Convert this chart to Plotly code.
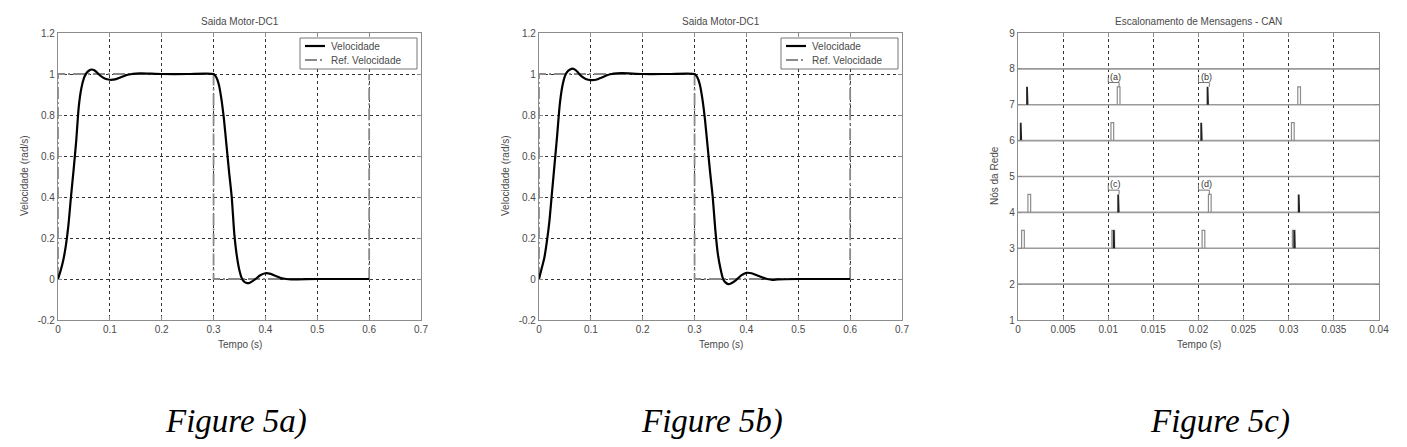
import plotly.graph_objects as go

W, H = 1407, 447

# ---------------- Figure 5a data ----------------
t_a = [0, 0.005, 0.01, 0.015, 0.02, 0.025, 0.03, 0.035, 0.04, 0.045, 0.05, 0.055, 0.06, 0.065,
       0.07, 0.075, 0.08, 0.09, 0.1, 0.11, 0.12, 0.13, 0.14, 0.15, 0.16, 0.2, 0.25, 0.3,
       0.305, 0.31, 0.315, 0.32, 0.325, 0.33, 0.335, 0.34, 0.345, 0.35, 0.355, 0.36, 0.365,
       0.37, 0.38, 0.39, 0.4, 0.41, 0.42, 0.43, 0.44, 0.45, 0.5, 0.6]
v_a = [0, 0.04, 0.09, 0.16, 0.26, 0.40, 0.53, 0.67, 0.84, 0.93, 0.98, 1.005, 1.017, 1.022,
       1.018, 1.008, 0.995, 0.978, 0.972, 0.974, 0.983, 0.993, 0.999, 1.002, 1.003, 1.0, 1.0, 1.0,
       0.985, 0.95, 0.88, 0.78, 0.65, 0.52, 0.40, 0.22, 0.11, 0.04, 0.0, -0.015, -0.02,
       -0.018, -0.002, 0.018, 0.028, 0.025, 0.015, 0.005, 0.0, -0.002, 0.0, 0.0]

# ---------------- Figure 5b data ----------------
t_b = [0, 0.005, 0.01, 0.015, 0.02, 0.025, 0.03, 0.035, 0.04, 0.045, 0.05, 0.055, 0.06, 0.065,
       0.07, 0.075, 0.08, 0.09, 0.1, 0.11, 0.12, 0.13, 0.14, 0.15, 0.16, 0.2, 0.25, 0.3,
       0.305, 0.31, 0.315, 0.32, 0.325, 0.33, 0.335, 0.34, 0.345, 0.35, 0.355, 0.36, 0.365,
       0.37, 0.38, 0.39, 0.4, 0.41, 0.42, 0.43, 0.44, 0.45, 0.46, 0.5, 0.6]
v_b = [0, 0.05, 0.10, 0.18, 0.28, 0.42, 0.56, 0.70, 0.85, 0.94, 0.99, 1.012, 1.022, 1.026,
       1.02, 1.008, 0.993, 0.976, 0.970, 0.972, 0.982, 0.993, 1.0, 1.003, 1.004, 1.0, 1.0, 1.0,
       0.985, 0.95, 0.88, 0.78, 0.65, 0.52, 0.40, 0.24, 0.12, 0.05, 0.0, -0.018, -0.025,
       -0.022, -0.005, 0.018, 0.03, 0.028, 0.018, 0.008, 0.0, -0.004, -0.002, 0.0, 0.0]

# reference speed (same for 5a and 5b)
ref_t = [0, 0, 0.3, 0.3, 0.6, 0.6]
ref_v = [0, 1, 1, 0, 0, 1]

# ---------------- Figure 5c data ----------------
node_levels = [2, 3, 4, 5, 6, 7, 8]
n7_gray_t = [0.0110, 0.0310]
n7_black_t = [0.0010, 0.0210]
n6_gray_t = [0.0103, 0.0303]
n6_black_t = [0.0003, 0.0203]
n4_gray_t = [0.0011, 0.0211]
n4_black_t = [0.0111, 0.0311]
n3_gray_t = [0.0004, 0.0104, 0.0204, 0.0304]
n3_black_t = [0.0106, 0.0306]
pulse_height = 0.5
gray_pulse_w = 0.0003
black_pulse_w = 0.00006
lab_text = ["(a)", "(b)", "(c)", "(d)"]
lab_t = [0.0100, 0.0200, 0.0100, 0.0200]
lab_target_t = [0.0112, 0.0212, 0.0112, 0.0212]
lab_node = [7, 7, 4, 4]

# tick labels
ticks_ab_x = [0, 0.1, 0.2, 0.3, 0.4, 0.5, 0.6, 0.7]
ticks_ab_x_txt = ["0", "0.1", "0.2", "0.3", "0.4", "0.5", "0.6", "0.7"]
ticks_ab_y = [-0.2, 0, 0.2, 0.4, 0.6, 0.8, 1, 1.2]
ticks_ab_y_txt = ["-0.2", "0", "0.2", "0.4", "0.6", "0.8", "1", "1.2"]
ticks_c_x = [0, 0.005, 0.01, 0.015, 0.02, 0.025, 0.03, 0.035, 0.04]
ticks_c_x_txt = ["0", "0.005", "0.01", "0.015", "0.02", "0.025", "0.03", "0.035", "0.04"]
ticks_c_y = [1, 2, 3, 4, 5, 6, 7, 8, 9]
ticks_c_y_txt = ["1", "2", "3", "4", "5", "6", "7", "8", "9"]

titles = ["Saida Motor-DC1", "Saida Motor-DC1", "Escalonamento de Mensagens - CAN"]
captions = ["Figure 5a)", "Figure 5b)", "Figure 5c)"]
legend_names = ["Velocidade", "Ref. Velocidade"]

# ---------------- layout geometry (pixels) ----------------
def px_x(p):
    return p / W

def px_y(p):
    return 1 - p / H

dom_a = [px_x(58), px_x(421)]
dom_b = [px_x(539), px_x(902)]
dom_c = [px_x(1018), px_x(1379)]
dom_y = [px_y(320), px_y(33)]

TXT = "#4a4a4a"
FONT = "Liberation Sans, Arial, sans-serif"
AX = "#8c8c8c"
VEL_LINE = dict(color="black", width=2.2)
REF_LINE = dict(color="#8a8a8a", width=1.8, dash="12px,3px,2px,3px")

fig = go.Figure()

for i, (tt, vv) in enumerate([(t_a, v_a), (t_b, v_b)]):
    xa = "x" if i == 0 else "x2"
    ya = "y" if i == 0 else "y2"
    fig.add_trace(go.Scatter(x=ref_t, y=ref_v, mode="lines", name=legend_names[1],
                             line=REF_LINE, xaxis=xa, yaxis=ya, showlegend=False))
    fig.add_trace(go.Scatter(x=tt, y=vv, mode="lines", name=legend_names[0],
                             line=dict(**VEL_LINE, shape="spline", smoothing=0.6),
                             xaxis=xa, yaxis=ya, showlegend=False))


def pulses(starts, base, w):
    xs, ys = [], []
    for s in starts:
        xs += [s, s, s + w, s + w, None]
        ys += [base, base + pulse_height, base + pulse_height, base, None]
    return xs, ys

for lvl in node_levels:
    fig.add_trace(go.Scatter(x=[0, 0.04], y=[lvl, lvl], mode="lines",
                             line=dict(color="#9a9a9a", width=1.6),
                             xaxis="x3", yaxis="y3", showlegend=False, hoverinfo="skip"))

for base, gt, bt in [(7, n7_gray_t, n7_black_t), (6, n6_gray_t, n6_black_t),
                     (4, n4_gray_t, n4_black_t), (3, n3_gray_t, n3_black_t)]:
    gx, gy = pulses(gt, base, gray_pulse_w)
    fig.add_trace(go.Scatter(x=gx, y=gy, mode="lines", line=dict(color="#8c8c8c", width=1.2),
                             xaxis="x3", yaxis="y3", showlegend=False))
    bx, by = pulses(bt, base, black_pulse_w)
    fig.add_trace(go.Scatter(x=bx, y=by, mode="lines", line=dict(color="#222222", width=1.8),
                             xaxis="x3", yaxis="y3", showlegend=False))

# bracket labels
for txt, lt, tt, nd in zip(lab_text, lab_t, lab_target_t, lab_node):
    top = nd + pulse_height
    fig.add_trace(go.Scatter(x=[lt, lt, tt, tt], y=[top + 0.27, top + 0.12, top + 0.12, top],
                             mode="lines", line=dict(color="#777777", width=1),
                             xaxis="x3", yaxis="y3", showlegend=False))
    fig.add_annotation(x=lt, y=top + 0.12, xref="x3", yref="y3", text=txt, showarrow=False,
                       xanchor="left", yanchor="bottom", yshift=-1,
                       font=dict(family=FONT, size=9, color="#333"))

common_axis = dict(showline=True, linecolor=AX, linewidth=1.2, mirror="ticks",
                   ticks="inside", ticklen=4, tickcolor=AX, zeroline=False, automargin=False,
                   showgrid=True, gridcolor="#333333", gridwidth=1, griddash="3px,3px",
                   tickfont=dict(family=FONT, size=10, color=TXT))

fig.update_layout(
    width=W, height=H, margin=dict(l=0, r=0, t=0, b=0, pad=0, autoexpand=False),
    paper_bgcolor="white", plot_bgcolor="white", showlegend=False,
    xaxis=dict(domain=dom_a, range=[0, 0.7], tickvals=ticks_ab_x, ticktext=ticks_ab_x_txt,
               anchor="y", **common_axis),
    yaxis=dict(domain=dom_y, range=[-0.2, 1.2], tickvals=ticks_ab_y, ticktext=ticks_ab_y_txt,
               anchor="x", **common_axis),
    xaxis2=dict(domain=dom_b, range=[0, 0.7], tickvals=ticks_ab_x, ticktext=ticks_ab_x_txt,
                anchor="y2", **common_axis),
    yaxis2=dict(domain=dom_y, range=[-0.2, 1.2], tickvals=ticks_ab_y, ticktext=ticks_ab_y_txt,
                anchor="x2", **common_axis),
    xaxis3=dict(domain=dom_c, range=[0, 0.04], tickvals=ticks_c_x, ticktext=ticks_c_x_txt,
                anchor="y3", **common_axis),
    yaxis3=dict(domain=dom_y, range=[1, 9], tickvals=ticks_c_y, ticktext=ticks_c_y_txt,
                anchor="x3", **{**common_axis, "showgrid": False}),
)

# legends (drawn as boxes with sample lines)
for right in [417, 898]:
    left = right - 117
    fig.add_shape(type="rect", xref="paper", yref="paper",
                  x0=px_x(left), x1=px_x(right), y0=px_y(69), y1=px_y(38),
                  line=dict(color="#777", width=1), fillcolor="white", layer="above")
    for k, (nm, ln) in enumerate(zip(legend_names, [VEL_LINE, REF_LINE])):
        yy = 46 + 14 * k
        fig.add_shape(type="line", xref="paper", yref="paper",
                      x0=px_x(left + 5), x1=px_x(left + 25), y0=px_y(yy), y1=px_y(yy),
                      line=ln, layer="above")
        fig.add_annotation(x=px_x(left + 29), y=px_y(yy), xref="paper", yref="paper",
                           text=nm, showarrow=False, xanchor="left", yanchor="middle",
                           font=dict(family=FONT, size=10, color=TXT))

# titles, axis labels, captions
centers = [(58 + 421) / 2, (539 + 902) / 2, (1018 + 1379) / 2]
ylab_x = [25, 506, 995]
ylabs = ["Velocidade (rad/s)", "Velocidade (rad/s)", "Nós da Rede"]
cap_x = [236, 712, 1220]
for i in range(3):
    fig.add_annotation(x=px_x(centers[i]), y=px_y(21), xref="paper", yref="paper",
                       text=titles[i], showarrow=False, xanchor="center", yanchor="middle",
                       font=dict(family=FONT, size=10, color=TXT))
    fig.add_annotation(x=px_x(centers[i]), y=px_y(344), xref="paper", yref="paper",
                       text="Tempo (s)", showarrow=False, xanchor="center", yanchor="middle",
                       font=dict(family=FONT, size=10, color=TXT))
    fig.add_annotation(x=px_x(ylab_x[i]), y=px_y(176), xref="paper", yref="paper",
                       text=ylabs[i], showarrow=False, textangle=-90,
                       xanchor="center", yanchor="middle",
                       font=dict(family=FONT, size=10, color=TXT))
    fig.add_annotation(x=px_x(cap_x[i]), y=px_y(421), xref="paper", yref="paper",
                       text="<i>" + captions[i] + "</i>", showarrow=False,
                       xanchor="center", yanchor="middle",
                       font=dict(family="Liberation Serif, Times New Roman, serif", size=33,
                                 color="black"))

fig.write_html("out.html")
